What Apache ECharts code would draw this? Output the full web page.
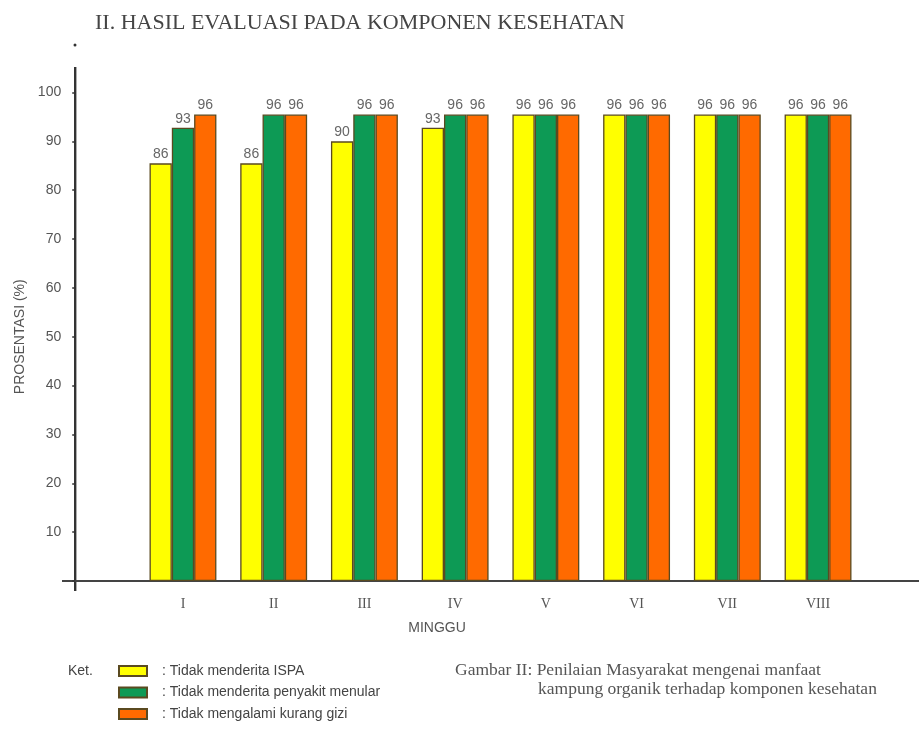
<!DOCTYPE html>
<html>
<head>
<meta charset="utf-8">
<script src="https://cdn.jsdelivr.net/npm/echarts@6/dist/echarts.min.js"></script>
<style>
html,body{margin:0;padding:0;background:#fff;}
#c{width:919px;height:731px;}
</style>
</head>
<body>
<div id="c"></div>
<script>
const categories = ['I','II','III','IV','V','VI','VII','VIII'];
const seriesNames = ['Tidak menderita ISPA','Tidak menderita penyakit menular','Tidak mengalami kurang gizi'];
const ispa    = [85.5, 85.5, 90.0, 92.8, 95.5, 95.5, 95.5, 95.5];
const menular = [92.8, 95.5, 95.5, 95.5, 95.5, 95.5, 95.5, 95.5];
const gizi    = [95.5, 95.5, 95.5, 95.5, 95.5, 95.5, 95.5, 95.5];
const colors = ['#ffff00', '#0d9a55', '#ff6a00'];

const chart = echarts.init(document.getElementById('c'));
const gridTop = 92.5, gridBottom = 150, gridLeft = 137.6, gridRight = 55.6;
const serifFont = '"Liberation Serif","DejaVu Serif",serif';
const sansFont = '"Liberation Sans",Arial,sans-serif';

function mk(name, data, color){
  return {
    name: name, type: 'bar', data: data,
    barWidth: 22.3, barGap: '0%',
    itemStyle: {color: color, borderColor: '#5a4a20', borderWidth: 1.3},
    label: {show: true, position: 'top', distance: 2, color: '#666', fontSize: 14,
      fontFamily: sansFont, formatter: p => Math.round(p.value)}
  };
}

chart.setOption({
  animation: false,
  backgroundColor: '#fff',
  grid: {top: gridTop, bottom: gridBottom, left: gridLeft, right: gridRight},
  legend: {
    orient: 'vertical', left: 118, top: 663, padding: 0, itemWidth: 28, itemHeight: 10, itemGap: 5.5,
    icon: 'rect', selectedMode: false,
    formatter: n => ': ' + n,
    textStyle: {color: '#444', fontSize: 14, lineHeight: 16, fontFamily: sansFont, padding: [0,0,0,10]},
    data: seriesNames
  },
  xAxis: {
    type: 'category', data: categories,
    axisLine: {show: false}, axisTick: {show: false},
    axisLabel: {color: '#555', fontSize: 14, fontFamily: serifFont, margin: 16}
  },
  yAxis: {
    type: 'value', min: 0, max: 100, interval: 10, offset: 62.4,
    axisLine: {show: false},
    axisTick: {show: true, length: 3, inside: false, lineStyle: {color: '#333', width: 1.5}},
    splitLine: {show: false},
    axisLabel: {color: '#555', fontSize: 14, fontFamily: sansFont, margin: 14,
      formatter: v => v === 0 ? '' : v},
    name: 'PROSENTASI (%)', nameLocation: 'middle', nameGap: 45,
    nameTextStyle: {color: '#555', fontSize: 14, fontFamily: sansFont}
  },
  series: [mk(seriesNames[0], ispa, colors[0]), mk(seriesNames[1], menular, colors[1]), mk(seriesNames[2], gizi, colors[2])],
  graphic: [
    {type: 'text', left: 95, top: 12, style: {text: 'II. HASIL EVALUASI PADA KOMPONEN KESEHATAN', fill: '#444', font: '22px ' + serifFont}},
    {type: 'circle', shape: {cx: 75, cy: 45, r: 1.5}, style: {fill: '#333'}},
    {type: 'line', shape: {x1: 75.2, y1: 67, x2: 75.2, y2: 591}, style: {stroke: '#333', lineWidth: 2.4}},
    {type: 'line', shape: {x1: 62, y1: 581, x2: 919, y2: 581}, style: {stroke: '#444', lineWidth: 2}},
    {type: 'text', x: 437, y: 628, style: {text: 'MINGGU', fill: '#555', font: '14px ' + sansFont, align: 'center', verticalAlign: 'middle'}},
    {type: 'text', x: 68, y: 671, style: {text: 'Ket.', fill: '#444', font: '14px ' + sansFont, verticalAlign: 'middle'}},
    {type: 'text', x: 455, y: 670, style: {text: 'Gambar II: Penilaian Masyarakat mengenai manfaat', fill: '#555', font: '17.5px ' + serifFont, verticalAlign: 'middle'}},
    {type: 'text', x: 538, y: 689, style: {text: 'kampung organik terhadap komponen kesehatan', fill: '#555', font: '17.5px ' + serifFont, verticalAlign: 'middle'}}
  ]
});
</script>
</body>
</html>
